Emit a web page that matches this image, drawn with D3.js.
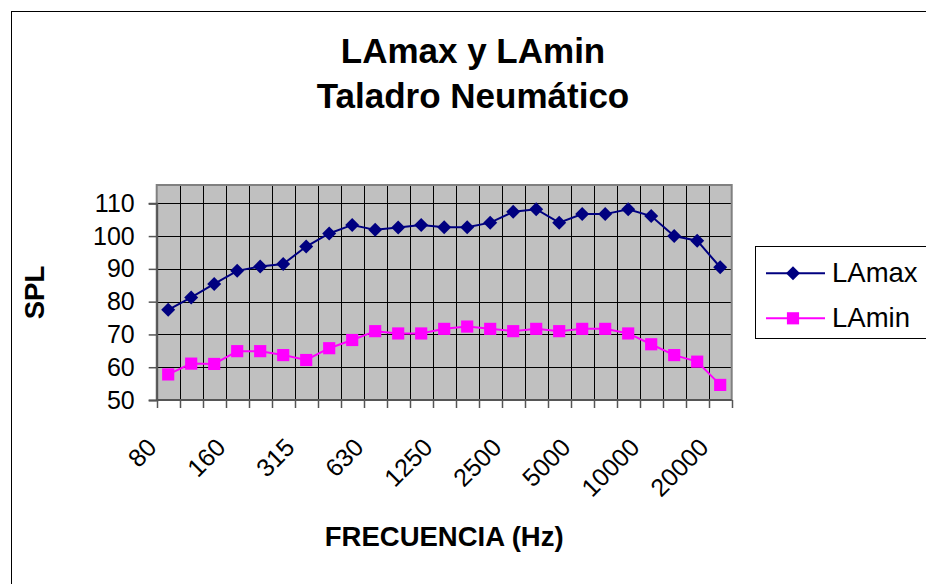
<!DOCTYPE html>
<html>
<head>
<meta charset="utf-8">
<script src="https://cdn.jsdelivr.net/npm/d3@7"></script>
<style>
  html, body { margin: 0; padding: 0; background: #fff; }
  svg { display: block; font-family: "Liberation Sans", Arial, sans-serif; }
</style>
</head>
<body>
<svg id="chart" width="926" height="584"></svg>
<script>
// ---- Data ----
const categories = ["80","100","125","160","200","250","315","400","500","630","800","1000","1250","1600","2000","2500","3150","4000","5000","6300","8000","10000","12500","16000","20000"];
const labeledCategories = ["80","160","315","630","1250","2500","5000","10000","20000"];
const lamax = [77.5,81.3,85.4,89.4,90.7,91.5,96.8,100.8,103.4,101.9,102.6,103.4,102.7,102.7,104.1,107.4,108.2,104.1,106.7,106.7,108.2,106.1,100.0,98.6,90.5];
const lamin = [57.8,61.1,61.0,64.9,64.9,63.7,62.2,65.8,68.3,71.0,70.3,70.3,71.7,72.4,71.7,71.0,71.7,71.0,71.7,71.7,70.3,67.0,63.7,61.7,54.6];
const yTicks = [50,60,70,80,90,100,110];
const seriesNames = ["LAmax","LAmin"];
const titleLines = ["LAmax y LAmin","Taladro Neumático"];

// ---- Layout ----
const svg = d3.select("#chart");
const plot = {left: 156.7, right: 731.7, top: 185, bottom: 400};
const x = d3.scaleBand().domain(categories).range([plot.left, plot.right]).padding(0);
const y = d3.scaleLinear().domain([50, 110]).range([plot.bottom, 203.3]);
const colors = {LAmax: "#000080", LAmin: "#FF00FF"};

// outer frame
svg.append("rect").attr("x", 11.5).attr("y", 11.5).attr("width", 940).attr("height", 600)
  .attr("fill", "#fff").attr("stroke", "#000").attr("stroke-width", 1);

// plot background
svg.append("rect").attr("x", plot.left).attr("y", plot.top)
  .attr("width", plot.right - plot.left).attr("height", plot.bottom - plot.top)
  .attr("fill", "#C0C0C0");

// vertical gridlines at category boundaries
const bounds = categories.map(c => x(c)).concat([plot.right]);
svg.append("g").selectAll("line").data(bounds.slice(1, -1)).join("line")
  .attr("x1", d => Math.round(d) + 0.5).attr("x2", d => Math.round(d) + 0.5)
  .attr("y1", plot.top).attr("y2", plot.bottom)
  .attr("stroke", "#000").attr("stroke-width", 1);

// horizontal gridlines
svg.append("g").selectAll("line").data(yTicks.slice(1)).join("line")
  .attr("x1", plot.left).attr("x2", plot.right)
  .attr("y1", d => Math.round(y(d)) + 0.5).attr("y2", d => Math.round(y(d)) + 0.5)
  .attr("stroke", "#000").attr("stroke-width", 1);

// plot border
svg.append("rect").attr("x", plot.left).attr("y", plot.top)
  .attr("width", plot.right - plot.left).attr("height", plot.bottom - plot.top)
  .attr("fill", "none").attr("stroke", "#808080").attr("stroke-width", 2);

// Y axis
const yAxis = d3.axisLeft(y).tickValues(yTicks).tickSize(8).tickPadding(14);
const gy = svg.append("g").attr("transform", `translate(${plot.left},0)`).call(yAxis);
gy.select(".domain").attr("stroke", "#555").attr("stroke-width", 2);
gy.selectAll(".tick line").attr("stroke", "#555").attr("stroke-width", 1.5);
gy.selectAll(".tick text").attr("font-size", 25).attr("fill", "#000")
  .attr("font-family", "Liberation Sans, Arial, sans-serif");

// X axis: ticks at boundaries
const gx = svg.append("g");
gx.append("line").attr("x1", plot.left).attr("x2", plot.right)
  .attr("y1", plot.bottom).attr("y2", plot.bottom).attr("stroke", "#555").attr("stroke-width", 2);
gx.selectAll("line.tk").data(bounds).join("line").attr("class", "tk")
  .attr("x1", d => Math.round(d) + 0.5).attr("x2", d => Math.round(d) + 0.5)
  .attr("y1", plot.bottom).attr("y2", plot.bottom + 8)
  .attr("stroke", "#555").attr("stroke-width", 1.5);
gx.selectAll("text").data(labeledCategories).join("text")
  .attr("transform", d => `translate(${x(d) + x.bandwidth() / 2 - 10},${plot.bottom + 49}) rotate(-45)`)
  .attr("text-anchor", "end")
  .attr("font-size", 25).attr("fill", "#000")
  .text(d => d);

// series
const series = [
  {name: seriesNames[0], values: lamax, shape: d3.symbolSquare, size: 98, rot: 45},
  {name: seriesNames[1], values: lamin, shape: d3.symbolSquare, size: 148, rot: 0}
];
const line = d3.line().x((d, i) => x(categories[i]) + x.bandwidth() / 2).y(d => y(d));
series.forEach(s => {
  svg.append("path").datum(s.values).attr("d", line)
    .attr("fill", "none").attr("stroke", colors[s.name]).attr("stroke-width", 2);
  svg.append("g").selectAll("path").data(s.values).join("path")
    .attr("transform", (d, i) => `translate(${x(categories[i]) + x.bandwidth() / 2},${y(d)}) rotate(${s.rot})`)
    .attr("d", d3.symbol().type(s.shape).size(s.size))
    .attr("fill", colors[s.name]);
});

// title
svg.append("g").selectAll("text").data(titleLines).join("text")
  .attr("x", 473).attr("y", (d, i) => 63 + i * 45)
  .attr("text-anchor", "middle").attr("font-size", 35).attr("font-weight", "bold")
  .text(d => d);

// axis titles
svg.append("text").attr("x", (plot.left + plot.right) / 2).attr("y", 546)
  .attr("text-anchor", "middle").attr("font-size", 27.5).attr("font-weight", "bold")
  .text("FRECUENCIA (Hz)");
svg.append("text").attr("transform", `translate(44,${(plot.top + plot.bottom) / 2}) rotate(-90)`)
  .attr("text-anchor", "middle").attr("font-size", 27.5).attr("font-weight", "bold")
  .text("SPL");

// legend
const lg = svg.append("g");
lg.append("rect").attr("x", 755.5).attr("y", 246.5).attr("width", 200).attr("height", 92)
  .attr("fill", "#fff").attr("stroke", "#000").attr("stroke-width", 1);
series.forEach((s, i) => {
  const ly = 273.3 + i * 45;
  lg.append("line").attr("x1", 766).attr("x2", 825).attr("y1", ly).attr("y2", ly)
    .attr("stroke", colors[s.name]).attr("stroke-width", 2);
  lg.append("path").attr("transform", `translate(793,${ly}) rotate(${s.rot})`)
    .attr("d", d3.symbol().type(s.shape).size(s.size)).attr("fill", colors[s.name]);
  lg.append("text").attr("x", 832).attr("y", ly + 9).attr("font-size", 27.5)
    .text(s.name);
});
</script>
</body>
</html>
